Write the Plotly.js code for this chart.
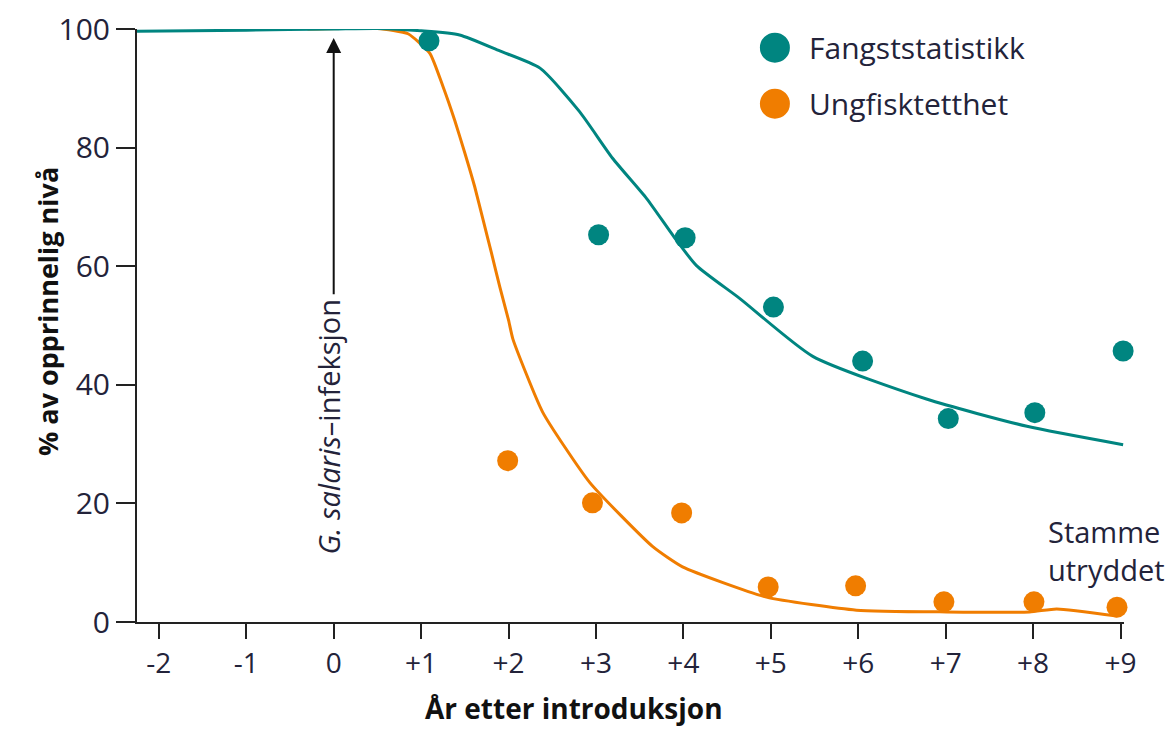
<!DOCTYPE html>
<html>
<head>
<meta charset="utf-8">
<script src="https://cdn.plot.ly/plotly-3.0.1.min.js"></script>
<style>html,body{margin:0;padding:0;background:#fff;}#chart{width:1171px;height:729px;}</style>
</head>
<body>
<div id="chart"></div>
<script>
// Observed points
const yearsTeal = [1.09, 3.03, 4.02, 5.03, 6.05, 7.03, 8.02, 9.03];
const fangst = [98.0, 65.3, 64.8, 53.1, 44.0, 34.3, 35.3, 45.7];
const yearsOrange = [1.99, 2.96, 3.98, 4.97, 5.97, 6.98, 8.01, 8.96];
const ungfisk = [27.2, 20.1, 18.4, 5.9, 6.1, 3.4, 3.4, 2.5];

// Fitted curves
const curveTealX = [-2.25, -1, 0, 0.5, 1.0, 1.44, 1.9, 2.36, 2.81, 3.19, 3.58, 3.9, 4.15, 4.65, 5.48, 6.78, 7.93, 9.03];
const curveTealY = [99.6, 99.8, 100, 100.1, 99.7, 99.0, 96.3, 93.4, 86.1, 78.2, 71.4, 64.8, 60.1, 54.5, 44.8, 37.6, 33.0, 29.9];
const curveOrangeX = [-0.3, 0.5, 0.85, 1.10, 1.25, 1.384, 1.50, 1.613, 1.709, 1.805, 1.90, 2.0, 2.05, 2.39, 2.93, 3.65, 3.99, 4.95, 5.98, 7.01, 7.96, 8.27, 8.96];
const curveOrangeY = [100, 100.1, 99.2, 95.9, 90.3, 84.6, 79.1, 73.4, 67.8, 62.2, 56.5, 50.9, 47.7, 35.4, 23.5, 12.7, 9.3, 4.2, 2.0, 1.7, 1.7, 2.2, 1.0];

const xTickVals = [-2, -1, 0, 1, 2, 3, 4, 5, 6, 7, 8, 9];
const xTickText = ['-2', '-1', '0', '+1', '+2', '+3', '+4', '+5', '+6', '+7', '+8', '+9'];
const yTickVals = [0, 20, 40, 60, 80, 100];

const seriesNames = ['Fangststatistikk', 'Ungfisktetthet'];
const teal = '#008580';
const orange = '#F07D00';
const ink = '#23233a';
const FONT = '"Open Sans", "Noto Sans", sans-serif';

const traces = [
  {x: curveOrangeX, y: curveOrangeY, mode: 'lines', line: {color: orange, width: 3, shape: 'spline', smoothing: 0.5}, showlegend: false, hoverinfo: 'skip', cliponaxis: false},
  {x: curveTealX, y: curveTealY, mode: 'lines', line: {color: teal, width: 3, shape: 'spline', smoothing: 0.6}, showlegend: false, hoverinfo: 'skip', cliponaxis: false},
  {x: yearsTeal, y: fangst, mode: 'markers', name: seriesNames[0], marker: {color: teal, size: 21}, cliponaxis: false, showlegend: false},
  {x: yearsOrange, y: ungfisk, mode: 'markers', name: seriesNames[1], marker: {color: orange, size: 21}, cliponaxis: false, showlegend: false}
];

const legendY = [0.9685, 0.874];
const legendColors = [teal, orange];
const shapes = legendColors.map((c, i) => ({
  type: 'circle', xref: 'paper', yref: 'paper', xsizemode: 'pixel', ysizemode: 'pixel',
  xanchor: 0.6463, yanchor: legendY[i], x0: -15, x1: 15, y0: -15, y1: 15,
  fillcolor: c, line: {width: 0}
}));

const annotations = [
  {x: 0, y: 98.5, ax: 0, ay: 55, xref: 'x', yref: 'y', axref: 'x', ayref: 'y', text: '', showarrow: true,
   arrowhead: 2, arrowsize: 1.5, arrowwidth: 2, arrowcolor: '#111'},
  {x: 0, y: 32.9, xref: 'x', yref: 'y', text: '<i>G. salaris</i>–infeksjon', showarrow: false, textangle: -90,
   xshift: -5, font: {family: FONT, size: 29, color: ink}},
  {x: 8.15, y: 12.0, xref: 'x', yref: 'y', text: 'Stamme<br>utryddet', showarrow: false, xanchor: 'left', yanchor: 'middle', align: 'left',
   font: {family: FONT, size: 29, color: ink}},
  {x: 0.443, y: -0.1451, xref: 'paper', yref: 'paper', text: '<b>År etter introduksjon</b>', showarrow: false, yanchor: 'middle',
   font: {family: FONT, size: 28, color: '#111'}},
  {x: -0.1108, y: 0.523, xref: 'paper', yref: 'paper', text: '<b>% av opprinnelig nivå</b>', showarrow: false, textangle: -90,
   font: {family: FONT, size: 27, color: '#111'}},
  {x: 0.679, y: legendY[0], xref: 'paper', yref: 'paper', text: seriesNames[0], showarrow: false, xanchor: 'left', yanchor: 'middle',
   font: {family: FONT, size: 30, color: ink}},
  {x: 0.679, y: legendY[1], xref: 'paper', yref: 'paper', text: seriesNames[1], showarrow: false, xanchor: 'left', yanchor: 'middle',
   font: {family: FONT, size: 30, color: ink}}
];

const layout = {
  width: 1171, height: 729,
  margin: {l: 137, r: 47, t: 29, b: 107},
  paper_bgcolor: '#fff', plot_bgcolor: '#fff',
  font: {family: FONT, color: ink},
  showlegend: false,
  xaxis: {
    range: [-2.25, 9.04], tickvals: xTickVals, ticktext: xTickText,
    showgrid: false, zeroline: false, showline: true, linecolor: '#222', linewidth: 2,
    ticks: 'outside', ticklen: 15, tickwidth: 2, tickcolor: '#222',
    tickfont: {family: FONT, size: 28, color: ink}, fixedrange: true
  },
  yaxis: {
    range: [0, 100], tickvals: yTickVals,
    showgrid: false, zeroline: false, showline: true, linecolor: '#222', linewidth: 2,
    ticks: 'outside', ticklen: 19, tickwidth: 2, tickcolor: '#222',
    tickfont: {family: FONT, size: 30, color: ink},
    fixedrange: true
  },
  shapes: shapes,
  annotations: annotations
};

Plotly.newPlot('chart', traces, layout, {displayModeBar: false, staticPlot: true});
</script>
</body>
</html>
